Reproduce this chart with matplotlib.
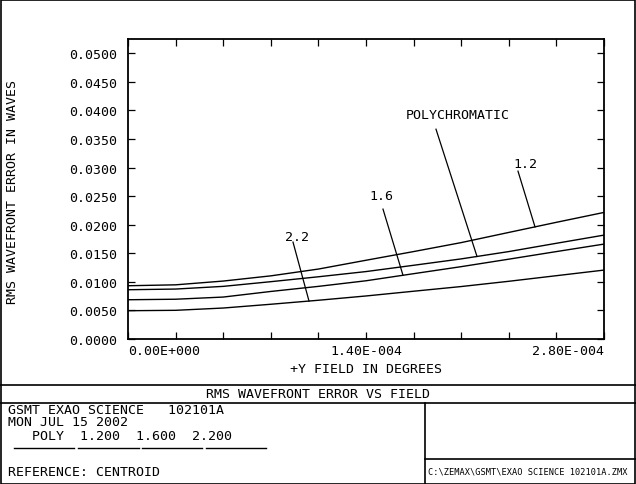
import numpy as np
import matplotlib
matplotlib.use("Agg")
import matplotlib.pyplot as plt
from matplotlib.lines import Line2D
from matplotlib.patches import Rectangle

# ---- data ----
field = np.array([0.0, 0.28, 0.56, 0.84, 1.12, 1.40, 1.68, 1.96, 2.24, 2.52, 2.80]) * 1e-4
rms_1_2 = np.array([0.00932, 0.00948, 0.01014, 0.01105, 0.01224, 0.01378, 0.01530, 0.01687, 0.01865, 0.02042, 0.02215])
rms_poly = np.array([0.00862, 0.00874, 0.00921, 0.01003, 0.01089, 0.01180, 0.01290, 0.01402, 0.01530, 0.01675, 0.01818])
rms_1_6 = np.array([0.00687, 0.00696, 0.00734, 0.00832, 0.00921, 0.01019, 0.01143, 0.01266, 0.01397, 0.01530, 0.01661])
rms_2_2 = np.array([0.00495, 0.00502, 0.00542, 0.00608, 0.00678, 0.00753, 0.00836, 0.00918, 0.01010, 0.01108, 0.01206])

y_ticks = [0.0, 0.005, 0.010, 0.015, 0.020, 0.025, 0.030, 0.035, 0.040, 0.045, 0.050]
y_tick_labels = ["0.0000", "0.0050", "0.0100", "0.0150", "0.0200", "0.0250",
                 "0.0300", "0.0350", "0.0400", "0.0450", "0.0500"]
x_tick_labels = ["0.00E+000", "1.40E-004", "2.80E-004"]

title = "RMS WAVEFRONT ERROR VS FIELD"
xlabel = "+Y FIELD IN DEGREES"
ylabel = "RMS WAVEFRONT ERROR IN WAVES"
info1 = "GSMT EXAO SCIENCE   102101A"
info2 = "MON JUL 15 2002"
info3 = "   POLY  1.200  1.600  2.200"
info4 = "REFERENCE: CENTROID"
filename = "C:\\ZEMAX\\GSMT\\EXAO SCIENCE 102101A.ZMX"

FONT = "DejaVu Sans Mono"
FS = 9.5

W, H = 636, 485
fig = plt.figure(figsize=(W / 100, H / 100), dpi=100)

def fx(x):
    return x / W

def fy(y):
    return 1 - y / H

ax = fig.add_axes([fx(128), fy(340), fx(604) - fx(128), fy(40) - fy(340)])
xmax = 2.8e-4
ax.set_xlim(0, xmax)
ax.set_ylim(0, 0.0525)

for s in [rms_1_2, rms_poly, rms_1_6, rms_2_2]:
    ax.plot(field, s, color="black", lw=1.0)

ax.set_yticks(y_ticks)
ax.set_yticklabels(y_tick_labels, fontfamily=FONT, fontsize=FS)
ax.set_xticks(np.linspace(0, xmax, 11))
ax.set_xticklabels([])
ax.tick_params(direction="in", length=5, width=0.9, top=True, right=True, pad=8)
for sp in ax.spines.values():
    sp.set_linewidth(1.3)

# x tick labels (first left-aligned, middle centred, last right-aligned)
XL_Y = -0.04
ax.text(0, XL_Y, x_tick_labels[0], transform=ax.get_xaxis_transform(), ha="left", va="center",
        fontfamily=FONT, fontsize=FS)
ax.text(xmax / 2, XL_Y, x_tick_labels[1], transform=ax.get_xaxis_transform(), ha="center", va="center",
        fontfamily=FONT, fontsize=FS)
ax.text(xmax, XL_Y, x_tick_labels[2], transform=ax.get_xaxis_transform(), ha="right", va="center",
        fontfamily=FONT, fontsize=FS)
ax.text(xmax / 2, -0.097, xlabel, transform=ax.get_xaxis_transform(), ha="center", va="center",
        fontfamily=FONT, fontsize=FS)
fig.text(fx(13), fy(192), ylabel, rotation=90, ha="center", va="center", fontfamily=FONT, fontsize=FS)

# curve annotations
def px2field(p):
    return (p - 128) / 476 * xmax

def py2val(p):
    return (340 - p) / 5720

annots = [
    ("1.2", rms_1_2, (525, 164), (518, 172), 535),
    ("POLYCHROMATIC", rms_poly, (458, 115), (436, 130), 477),
    ("1.6", rms_1_6, (381, 196), (383, 210), 403),
    ("2.2", rms_2_2, (297, 237), (293, 243), 309),
]
for lab, s, tpos, start, endx in annots:
    ex = px2field(endx)
    ey = np.interp(ex, field, s)
    ax.plot([px2field(start[0]), ex], [py2val(start[1]), ey], color="black", lw=0.9)
    ax.text(px2field(tpos[0]), py2val(tpos[1]), lab, ha="center", va="center",
            fontfamily=FONT, fontsize=FS)

# frame / info box
fig.add_artist(Rectangle((fx(0.5), fy(484.5)), fx(635) - fx(0.5), fy(0.5) - fy(484.5),
                         transform=fig.transFigure, fill=False, lw=1.2, color="black"))
def hline(y, x0, x1, lw=1.2):
    fig.add_artist(Line2D([fx(x0), fx(x1)], [fy(y), fy(y)], transform=fig.transFigure, color="black", lw=lw))

def vline(x, y0, y1, lw=1.2):
    fig.add_artist(Line2D([fx(x), fx(x)], [fy(y0), fy(y1)], transform=fig.transFigure, color="black", lw=lw))

hline(386, 0, 636)
hline(404, 0, 636)
vline(425, 404, 485)
hline(460, 425, 636)

fig.text(fx(318), fy(395), title, ha="center", va="center", fontfamily=FONT, fontsize=FS)
fig.text(fx(8), fy(411), info1, ha="left", va="center", fontfamily=FONT, fontsize=FS)
fig.text(fx(8), fy(423), info2, ha="left", va="center", fontfamily=FONT, fontsize=FS)
fig.text(fx(8), fy(437), info3, ha="left", va="center", fontfamily=FONT, fontsize=FS)
for a, b in [(14, 74), (78, 139), (142, 202), (206, 266)]:
    hline(449, a, b, lw=1.0)
fig.text(fx(8), fy(473), info4, ha="left", va="center", fontfamily=FONT, fontsize=FS)
fig.text(fx(428), fy(472), filename, ha="left", va="center", fontfamily=FONT, fontsize=6.2)

fig.savefig("out.png", dpi=100)
